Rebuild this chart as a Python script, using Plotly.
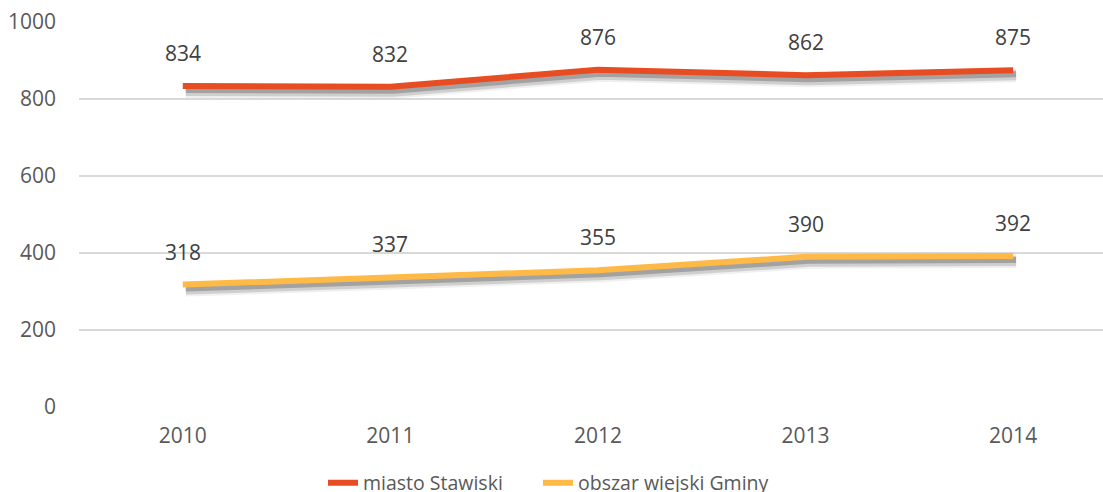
import plotly.graph_objects as go

years = ["2010", "2011", "2012", "2013", "2014"]
miasto = [834, 832, 876, 862, 875]
obszar = [318, 337, 355, 390, 392]
series_names = ["miasto Stawiski", "obszar wiejski Gminy"]
colors = ["#E84C22", "#FFB946"]

W, H = 1103, 492
ML, MR, MT, MB = 79, 0, 22, 85
XR = [-0.5, 4.433]
YR = [0, 1000]
plot_w = W - ML - MR
plot_h = H - MT - MB
ux = (XR[1] - XR[0]) / plot_w
uy = (YR[1] - YR[0]) / plot_h

xs = list(range(len(years)))
font = "Open Sans, Noto Sans, sans-serif"

fig = go.Figure()

# soft shadows
for vals in (miasto, obszar):
    for w, a, dx, dy in [(14, 0.08, 3, 5), (10, 0.18, 3, 5), (6, 0.3, 3, 4)]:
        fig.add_trace(go.Scatter(
            x=[v + dx * ux for v in xs], y=[v - dy * uy for v in vals],
            mode="lines", line=dict(color=f"rgba(60,60,60,{a})", width=w),
            showlegend=False, hoverinfo="skip"))

legend_ids = ["legend", "legend2"]
legend_px = [323, 538]
for name, vals, c, lid in zip(series_names, [miasto, obszar], colors, legend_ids):
    fig.add_trace(go.Scatter(x=xs, y=vals, mode="lines", name=name, legend=lid,
                             line=dict(color=c, width=6)))
    for x, v in zip(xs, vals):
        fig.add_annotation(x=x, y=v, text=str(v), showarrow=False, yshift=33,
                           font=dict(family=font, size=21, color="#404040"))

leg_y = -(483 - (H - MB)) / plot_h
legend_common = dict(orientation="h", xanchor="left", y=leg_y, yanchor="middle",
                     font=dict(family=font, size=19.5, color="#595959"),
                     bgcolor="rgba(0,0,0,0)")

fig.update_layout(
    width=W, height=H,
    margin=dict(l=ML, r=MR, t=MT, b=MB, autoexpand=False),
    plot_bgcolor="white", paper_bgcolor="white",
    font=dict(family=font, size=21, color="#595959"),
    showlegend=True,
    legend=dict(x=(legend_px[0] - ML) / plot_w, **legend_common),
    legend2=dict(x=(legend_px[1] - ML) / plot_w, **legend_common),
    xaxis=dict(range=XR, tickvals=xs, ticktext=years, showgrid=False, zeroline=False,
               showline=False, ticks="", ticklabelstandoff=14, fixedrange=True,
               automargin=False),
    yaxis=dict(range=YR, tickvals=[0, 200, 400, 600, 800, 1000], showgrid=True,
               gridcolor="#D9D9D9", gridwidth=1.5, zeroline=False, showline=False,
               ticks="", ticklabelstandoff=22, automargin=False),
)

fig.write_html("out.html", config={"displayModeBar": False},
               post_script="document.body.style.margin='0px';document.body.style.overflow='hidden';")
